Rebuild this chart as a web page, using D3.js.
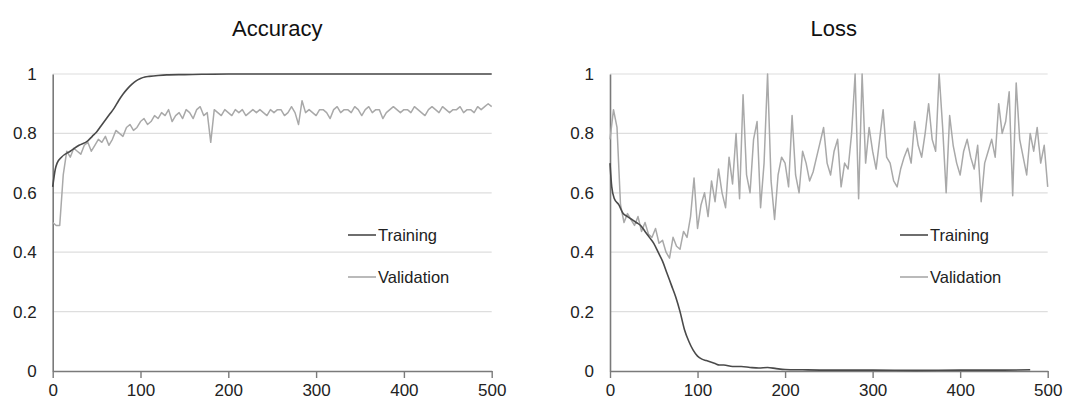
<!DOCTYPE html>
<html>
<head>
<meta charset="utf-8">
<script src="https://cdn.jsdelivr.net/npm/d3@7"></script>
<style>
  body { margin: 0; background: #fff; }
  svg { display: block; font-family: "Liberation Sans", Arial, sans-serif; }
</style>
</head>
<body>
<svg id="chart" width="1079" height="403"></svg>
<script>
// y tick labels
const yTicks = [0, 0.2, 0.4, 0.6, 0.8, 1];
const xTicks = [0, 100, 200, 300, 400, 500];

// accuracy, training
const trainAccEpoch = [0, 3, 5, 10, 20, 30, 40, 45, 50, 55, 60, 65, 70, 75, 80, 85, 90, 95, 100, 105, 110, 120, 130, 150, 170, 200, 250, 300, 350, 400, 450, 500];
const trainAcc = [0.62, 0.68, 0.70, 0.72, 0.74, 0.76, 0.775, 0.79, 0.805, 0.825, 0.845, 0.865, 0.885, 0.91, 0.932, 0.95, 0.965, 0.977, 0.985, 0.99, 0.992, 0.995, 0.997, 0.998, 0.999, 1, 1, 1, 1, 1, 1, 1];

// accuracy, validation, one value every 4 epochs
const valAcc = [
  0.50, 0.49, 0.49, 0.66, 0.74, 0.72, 0.75, 0.74, 0.73, 0.76,
  0.77, 0.74, 0.76, 0.78, 0.77, 0.79, 0.76, 0.78, 0.81, 0.80,
  0.79, 0.82, 0.83, 0.81, 0.82, 0.84, 0.85, 0.83, 0.84, 0.86,
  0.85, 0.87, 0.86, 0.88, 0.84, 0.86, 0.87, 0.85, 0.88, 0.87,
  0.85, 0.88, 0.89, 0.86, 0.87, 0.77, 0.88, 0.87, 0.86, 0.88,
  0.87, 0.86, 0.88, 0.87, 0.88, 0.86, 0.87, 0.88, 0.87, 0.88,
  0.87, 0.86, 0.88, 0.87, 0.88, 0.88, 0.86, 0.87, 0.89, 0.87,
  0.83, 0.91, 0.87, 0.88, 0.87, 0.86, 0.88, 0.88, 0.87, 0.85,
  0.88, 0.89, 0.87, 0.88, 0.88, 0.87, 0.89, 0.88, 0.86, 0.88,
  0.89, 0.87, 0.88, 0.88, 0.85, 0.87, 0.88, 0.89, 0.88, 0.87,
  0.88, 0.88, 0.87, 0.89, 0.88, 0.87, 0.86, 0.88, 0.89, 0.88,
  0.87, 0.89, 0.88, 0.87, 0.88, 0.88, 0.89, 0.87, 0.88, 0.88,
  0.87, 0.89, 0.88, 0.89, 0.90, 0.89
];

// loss, training
const trainLossEpoch = [0, 2, 5, 10, 15, 20, 25, 30, 35, 40, 45, 50, 55, 60, 65, 70, 75, 80, 85, 90, 95, 100, 105, 110, 115, 120, 125, 130, 140, 150, 160, 170, 180, 190, 200, 220, 250, 300, 350, 400, 450, 480];
const trainLoss = [0.70, 0.62, 0.58, 0.56, 0.53, 0.52, 0.51, 0.50, 0.49, 0.47, 0.45, 0.43, 0.40, 0.37, 0.33, 0.29, 0.25, 0.20, 0.14, 0.10, 0.07, 0.05, 0.04, 0.035, 0.03, 0.025, 0.02, 0.02, 0.015, 0.015, 0.012, 0.01, 0.012, 0.008, 0.005, 0.004, 0.003, 0.003, 0.002, 0.003, 0.003, 0.004];

// loss, validation, one value every 4 epochs
const valLoss = [
  0.78, 0.88, 0.82, 0.56, 0.50, 0.53, 0.51, 0.49, 0.52, 0.47,
  0.50, 0.46, 0.45, 0.48, 0.43, 0.44, 0.40, 0.38, 0.45, 0.42,
  0.41, 0.47, 0.45, 0.52, 0.65, 0.48, 0.56, 0.60, 0.52, 0.64,
  0.57, 0.68, 0.60, 0.55, 0.72, 0.63, 0.80, 0.58, 0.93, 0.66,
  0.60, 0.78, 0.84, 0.55, 0.70, 1.00, 0.64, 0.51, 0.66, 0.72,
  0.70, 0.62, 0.86, 0.66, 0.60, 0.74, 0.70, 0.64, 0.67, 0.72,
  0.77, 0.82, 0.70, 0.66, 0.74, 0.78, 0.62, 0.70, 0.68, 0.80,
  1.00, 0.58, 1.00, 0.70, 0.82, 0.74, 0.68, 0.78, 0.88, 0.72,
  0.70, 0.64, 0.62, 0.68, 0.72, 0.75, 0.70, 0.84, 0.76, 0.72,
  0.80, 0.90, 0.78, 0.74, 1.00, 0.82, 0.60, 0.86, 0.76, 0.70,
  0.66, 0.74, 0.78, 0.72, 0.68, 0.76, 0.57, 0.70, 0.74, 0.78,
  0.72, 0.90, 0.80, 0.84, 0.94, 0.59, 0.97, 0.78, 0.72, 0.66,
  0.80, 0.74, 0.82, 0.70, 0.76, 0.62
];

const trainColor = "#4a4a4a";
const valColor = "#a9a9a9";

const svg = d3.select("#chart");

function panel(opts) {
    let x = d3.scaleLinear().domain([0, 500]).range([opts.left, opts.right]);
    let y = d3.scaleLinear().domain([0, 1]).range([371, 74]);

    let g = svg.append("g");

    // title
    g.append("text")
        .attr("x", (opts.left + opts.right) / 2 + 5)
        .attr("y", 36)
        .attr("text-anchor", "middle")
        .attr("font-size", 22)
        .attr("fill", "#111")
        .text(opts.title);

    // gridlines
    g.append("g").selectAll("line").data(yTicks.filter(d => d > 0)).enter()
        .append("line")
        .attr("x1", x(0)).attr("x2", x(500))
        .attr("y1", d => y(d)).attr("y2", d => y(d))
        .attr("stroke", "#dedede")
        .attr("stroke-width", 1.2);

    // y axis
    let yAxis = g.append("g")
        .attr("transform", `translate(${x(0)},0)`)
        .call(d3.axisLeft(y).tickValues(yTicks).tickSize(0).tickPadding(16)
            .tickFormat(d => d3.format("")(+d.toFixed(1))));
    yAxis.select(".domain").attr("stroke", "#7a7a7a").attr("stroke-width", 1.6);
    yAxis.selectAll("text").attr("font-size", 17).attr("fill", "#222")
        .attr("font-family", "Liberation Sans, Arial, sans-serif");

    // x axis
    let xAxis = g.append("g")
        .attr("transform", `translate(0,${y(0)})`)
        .call(d3.axisBottom(x).tickValues(xTicks).tickSize(7).tickSizeOuter(0).tickPadding(6));
    xAxis.select(".domain").attr("stroke", "#7a7a7a").attr("stroke-width", 1.6);
    xAxis.selectAll(".tick line").attr("stroke", "#7a7a7a").attr("stroke-width", 1.4);
    xAxis.selectAll("text").attr("font-size", 17).attr("fill", "#222")
        .attr("font-family", "Liberation Sans, Arial, sans-serif");

    let line = d3.line().x(d => x(d[0])).y(d => y(d[1]));

    // validation drawn first, training on top
    g.append("path")
        .datum(opts.val.map((v, i) => [i * 4, v]))
        .attr("d", line)
        .attr("fill", "none")
        .attr("stroke", valColor)
        .attr("stroke-width", 1.5)
        .attr("stroke-linejoin", "round");

    g.append("path")
        .datum(opts.trainEpoch.map((e, i) => [e, opts.train[i]]))
        .attr("d", line.curve(d3.curveMonotoneX))
        .attr("fill", "none")
        .attr("stroke", trainColor)
        .attr("stroke-width", 1.6);

    // legend
    let legend = g.append("g");
    [["Training", trainColor, 235], ["Validation", valColor, 277]].forEach(function (item) {
        legend.append("line")
            .attr("x1", opts.legendX).attr("x2", opts.legendX + 28)
            .attr("y1", item[2]).attr("y2", item[2])
            .attr("stroke", item[1]).attr("stroke-width", 1.6);
        legend.append("text")
            .attr("x", opts.legendX + 30)
            .attr("y", item[2] + 6)
            .attr("font-size", 16.5)
            .attr("fill", "#222")
            .text(item[0]);
    });
}

panel({ title: "Accuracy", left: 52.7, right: 491.7, legendX: 348,
        trainEpoch: trainAccEpoch, train: trainAcc, val: valAcc });
panel({ title: "Loss", left: 610, right: 1047.7, legendX: 900,
        trainEpoch: trainLossEpoch, train: trainLoss, val: valLoss });
</script>
</body>
</html>
